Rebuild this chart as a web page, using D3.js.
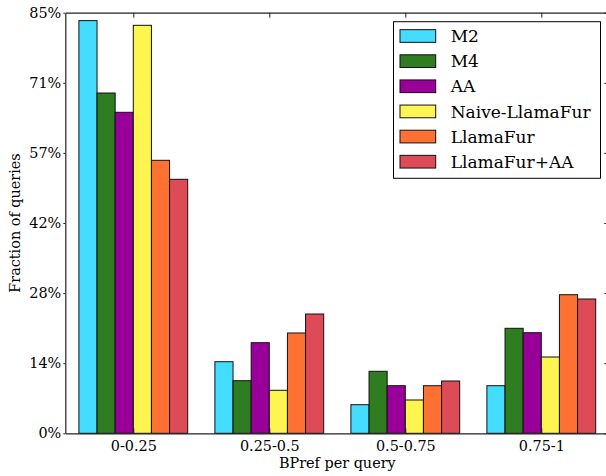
<!DOCTYPE html>
<html>
<head>
<meta charset="utf-8">
<script src="https://cdn.jsdelivr.net/npm/d3@7"></script>
<style>
  html, body { margin: 0; padding: 0; background: #fff; }
  svg { display: block; }
  text { font-family: "DejaVu Serif", serif; fill: #000; }
</style>
</head>
<body>
<svg id="chart" width="606" height="476"></svg>
<script>
// ---- data ----
const categories = ["0-0.25", "0.25-0.5", "0.5-0.75", "0.75-1"];
const seriesNames = ["M2", "M4", "AA", "Naive-LlamaFur", "LlamaFur", "LlamaFur+AA"];
const seriesColors = ["#45DDFF", "#2F7D20", "#990099", "#FFF550", "#FF7033", "#DD4C56"];
const m2 = [0.834, 0.1447, 0.0578, 0.0962];
const m4 = [0.6877, 0.1063, 0.1253, 0.2122];
const aa = [0.6487, 0.1831, 0.0962, 0.2033];
const naiveLlamaFur = [0.8245, 0.0869, 0.0673, 0.1542];
const llamaFur = [0.5517, 0.2027, 0.0962, 0.2801];
const llamaFurAA = [0.5133, 0.2411, 0.1057, 0.2714];
const yTickValues = [0, 0.85/6, 2*0.85/6, 3*0.85/6, 4*0.85/6, 5*0.85/6, 0.85];
const yTickLabels = ["0%", "14%", "28%", "42%", "57%", "71%", "85%"];
const xLabel = "BPref per query";
const yLabel = "Fraction of queries";

const seriesValues = [m2, m4, aa, naiveLlamaFur, llamaFur, llamaFurAA];

// ---- layout ----
const svg = d3.select("#chart");
const pLeft = 65.3, pRight = 609.3, pTop = 12.7, pBottom = 433.3;
const barW = 0.8 / seriesNames.length;

const x = d3.scaleLinear().domain([-0.1, 3.9]).range([pLeft, pRight]);
const y = d3.scaleLinear().domain([0, 0.85]).range([pBottom, pTop]);

// bars
const rows = [];
seriesValues.forEach((vals, si) => {
  vals.forEach((v, ci) => rows.push({ si, ci, v }));
});

svg.append("g").selectAll("rect")
  .data(rows)
  .join("rect")
  .attr("x", d => x(d.ci + d.si * barW))
  .attr("width", d => x(d.ci + (d.si + 1) * barW) - x(d.ci + d.si * barW))
  .attr("y", d => y(d.v))
  .attr("height", d => y(0) - y(d.v))
  .attr("fill", d => seriesColors[d.si])
  .attr("stroke", "#111")
  .attr("stroke-width", 1);

const groupCenters = categories.map((c, i) => i + 0.4);
const fontSize = 14.4;

// left axis (outward ticks)
const gl = svg.append("g").attr("transform", `translate(${pLeft},0)`)
  .call(d3.axisLeft(y).tickValues(yTickValues)
    .tickFormat((d, i) => yTickLabels[i]).tickSizeInner(2).tickSizeOuter(0).tickPadding(2));
gl.selectAll("text").style("font-size", fontSize + "px").style("font-family", "DejaVu Serif");

// right axis (inward ticks)
svg.append("g").attr("transform", `translate(${pRight},0)`)
  .call(d3.axisRight(y).tickValues(yTickValues).tickFormat("").tickSizeInner(-5).tickSizeOuter(0));

// top axis (inward ticks)
svg.append("g").attr("transform", `translate(0,${pTop})`)
  .call(d3.axisTop(x).tickValues(groupCenters).tickFormat("").tickSizeInner(-5).tickSizeOuter(0));

// bottom axis
const gb = svg.append("g").attr("transform", `translate(0,${pBottom})`)
  .call(d3.axisBottom(x).tickValues(groupCenters)
    .tickFormat((d, i) => categories[i]).tickSizeInner(-5).tickSizeOuter(0).tickPadding(7.7));
gb.selectAll("text").style("font-size", fontSize + "px").style("font-family", "DejaVu Serif");

svg.selectAll(".domain").attr("stroke", "#222").attr("stroke-width", 1.2);
svg.selectAll(".tick line").attr("stroke", "#222").attr("stroke-width", 1);

// axis labels
svg.append("text")
  .attr("x", (pLeft + pRight) / 2)
  .attr("y", 468.3)
  .attr("text-anchor", "middle")
  .style("font-size", fontSize + "px")
  .text(xLabel);

svg.append("text")
  .attr("transform", `translate(19.5,${(pTop + pBottom) / 2}) rotate(-90)`)
  .attr("text-anchor", "middle")
  .style("font-size", fontSize + "px")
  .text(yLabel);

// legend
const leg = svg.append("g");
leg.append("rect")
  .attr("x", 393.5).attr("y", 21.7)
  .attr("width", 207).attr("height", 156.6)
  .attr("fill", "#fff").attr("stroke", "#000").attr("stroke-width", 1);

const legItems = leg.selectAll("g.item")
  .data(seriesNames)
  .join("g")
  .attr("class", "item")
  .attr("transform", (d, i) => `translate(0,${36 + i * 25.14})`);

legItems.append("rect")
  .attr("x", 400).attr("y", -6.35)
  .attr("width", 35.7).attr("height", 12.7)
  .attr("fill", (d, i) => seriesColors[i])
  .attr("stroke", "#111").attr("stroke-width", 1);

legItems.append("text")
  .attr("x", 450.7).attr("y", 0)
  .attr("dy", "0.36em")
  .style("font-size", "17px")
  .text(d => d);
</script>
</body>
</html>
